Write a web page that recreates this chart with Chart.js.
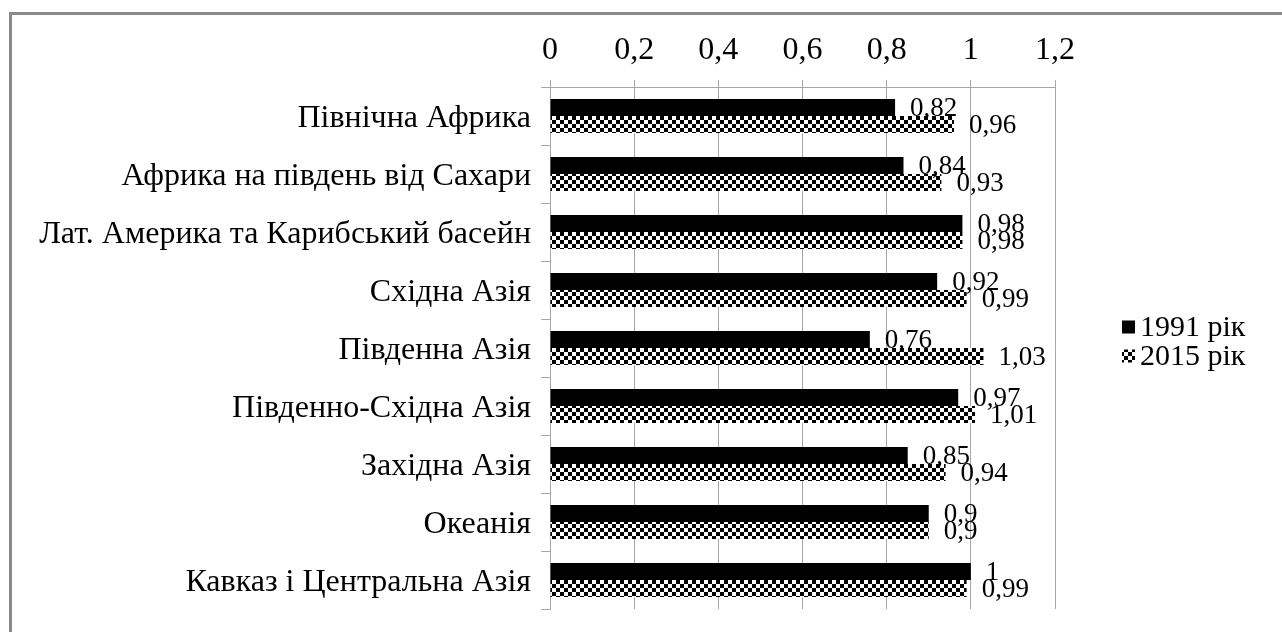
<!DOCTYPE html>
<html lang="uk">
<head>
<meta charset="utf-8">
<script src="https://cdn.jsdelivr.net/npm/chart.js@4.4.1/dist/chart.umd.min.js"></script>
<style>
  html, body { margin: 0; padding: 0; background: #ffffff; overflow: hidden; }
  #wrap { position: relative; width: 1282px; height: 632px; }
  #frame {
    position: absolute; left: 9px; top: 12px; right: -10px; bottom: -10px;
    border-left: 3px solid #8a8a8a; border-top: 3px solid #8a8a8a;
    pointer-events: none;
  }
  #chart { position: absolute; left: 0; top: 0; }
</style>
</head>
<body>
<div id="wrap">
  <div id="frame"></div>
  <canvas id="chart" width="1282" height="632"></canvas>
</div>
<script>
// Регіони та значення за два роки
const regions = [
  'Північна Африка',
  'Африка на південь від Сахари',
  'Лат. Америка та Карибський басейн',
  'Східна Азія',
  'Південна Азія',
  'Південно-Східна Азія',
  'Західна Азія',
  'Океанія',
  'Кавказ і Центральна Азія'
];
const values1991 = [0.82, 0.84, 0.98, 0.92, 0.76, 0.97, 0.85, 0.9, 1];
const values2015 = [0.96, 0.93, 0.98, 0.99, 1.03, 1.01, 0.94, 0.9, 0.99];
const seriesNames = ['1991 рік', '2015 рік'];
const axisMin = 0, axisMax = 1.2, axisStep = 0.2;

const FONT = '"Liberation Serif", "Times New Roman", serif';
const AXIS_FONT_SIZE = 32;
const VALUE_FONT_SIZE = 27;
const LEGEND_FONT_SIZE = 30;

// Шахова заливка для другої серії
function makeChecker(cell) {
  const c = document.createElement('canvas');
  c.width = cell * 2; c.height = cell * 2;
  const g = c.getContext('2d');
  g.fillStyle = '#ffffff';
  g.fillRect(0, 0, c.width, c.height);
  g.fillStyle = '#000000';
  g.fillRect(0, 0, cell, cell);
  g.fillRect(cell, cell, cell, cell);
  return c;
}
const ctx = document.getElementById('chart').getContext('2d');
const checker = ctx.createPattern(makeChecker(4), 'repeat');

const fmt = v => String(Math.round(v * 100) / 100).replace('.', ',');

// Підписи значень біля кінців смуг
const valueLabels = {
  id: 'valueLabels',
  afterDatasetsDraw(chart) {
    const c = chart.ctx;
    c.save();
    c.font = VALUE_FONT_SIZE + 'px ' + FONT;
    c.fillStyle = '#000';
    c.textAlign = 'left';
    c.textBaseline = 'middle';
    chart.data.datasets.forEach((ds, i) => {
      const meta = chart.getDatasetMeta(i);
      meta.data.forEach((el, j) => {
        c.fillText(fmt(ds.data[j]), el.x + 15, el.y + 1);
      });
    });
    c.restore();
  }
};

// Легенда праворуч від області графіка
const sideLegend = {
  id: 'sideLegend',
  afterDraw(chart) {
    const c = chart.ctx;
    const x = 1122, box = 13, gap = 29, top = 327;
    c.save();
    c.font = LEGEND_FONT_SIZE + 'px ' + FONT;
    c.textAlign = 'left';
    c.textBaseline = 'middle';
    chart.data.datasets.forEach((ds, i) => {
      const cy = top + i * gap;
      c.fillStyle = ds.backgroundColor;
      c.fillRect(x, cy - box / 2, box, box);
      c.fillStyle = '#000';
      c.fillText(ds.label, x + 18, cy + 1);
    });
    c.restore();
  }
};

new Chart(ctx, {
  type: 'bar',
  data: {
    labels: regions,
    datasets: [
      { label: seriesNames[0], data: values1991, backgroundColor: '#000000', borderWidth: 0 },
      { label: seriesNames[1], data: values2015, backgroundColor: checker, borderWidth: 0 }
    ]
  },
  options: {
    indexAxis: 'y',
    responsive: false,
    animation: false,
    layout: { padding: { left: 0, top: 0, right: 227, bottom: 23 } },
    datasets: { bar: { categoryPercentage: 0.59, barPercentage: 1.0 } },
    plugins: {
      legend: { display: false },
      tooltip: { enabled: false }
    },
    scales: {
      x: {
        position: 'top',
        min: axisMin, max: axisMax,
        afterFit(scale) { scale.height = 87; },
        ticks: {
          stepSize: axisStep,
          color: '#000',
          font: { family: FONT, size: AXIS_FONT_SIZE },
          padding: 10,
          callback: v => fmt(v)
        },
        grid: { color: '#a6a6a6', lineWidth: 1, tickLength: 7, drawTicks: true },
        border: { color: '#a6a6a6', width: 1 }
      },
      y: {
        afterFit(scale) {
          scale.width = 550;
          scale.paddingTop = 0;
          scale.paddingBottom = 0;
        },
        ticks: {
          color: '#000',
          font: { family: FONT, size: AXIS_FONT_SIZE },
          padding: 10,
          labelOffset: 3
        },
        grid: { drawOnChartArea: false, color: '#a6a6a6', tickLength: 9, offset: true },
        border: { color: '#a6a6a6', width: 1 }
      }
    }
  },
  plugins: [valueLabels, sideLegend]
});
</script>
</body>
</html>
